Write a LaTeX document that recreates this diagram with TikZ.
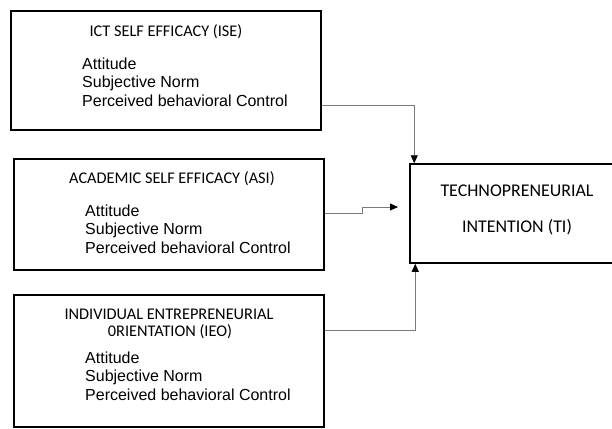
\documentclass[tikz,border=0pt]{standalone}
\usepackage{fontspec}
\setmainfont{Liberation Sans}
\newfontfamily\headfont{Carlito}
\usetikzlibrary{arrows.meta, calc}
\definecolor{Frame}{HTML}{000000}
\definecolor{Wire}{HTML}{7A7A7A}

\begin{document}
\begin{tikzpicture}[
  x=1pt, y=-1pt,
  frame/.style={
    draw=Frame,
    line width=1.5pt,
    inner sep=0pt
  },
  title/.style={
    font=\headfont\fontsize{16.3}{19}\selectfont,
    inner sep=0pt,
    anchor=base
  },
  items/.style={
    font=\fontsize{16}{18.5}\selectfont,
    align=left,
    inner sep=0pt,
    anchor=base west
  },
  link/.style={
    -{Triangle[length=8pt,width=7pt,color=black]},
    line width=0.9pt,
    draw=Wire
  }
]

\useasboundingbox (0,0) rectangle (612,428);
\clip (0,0) rectangle (612,428);

% source boxes
\node[frame, minimum width=310pt, minimum height=119pt] (ise) at (166,70.5) {};
\node[frame, minimum width=310pt, minimum height=111pt] (asi) at (169,214.5) {};
\node[frame, minimum width=310pt, minimum height=132pt] (ieo) at (169,361) {};

% base of the item lists is the last line
\node[title] (isetitle) at (166,37) {ICT SELF EFFICACY (ISE)};
\node[items] (iseitems) at (82,106)
  {Attitude\\Subjective Norm\\Perceived behavioral Control};

\node[title] (asititle) at (172,183) {ACADEMIC SELF EFFICACY (ASI)};
\node[items] (asiitems) at (85,253)
  {Attitude\\Subjective Norm\\Perceived behavioral Control};

\node[title] (ieotitle) at (169,319) {INDIVIDUAL ENTREPRENEURIAL};
\node[title] (ieotitleb) at (170,336) {0RIENTATION (IEO)};
\node[items] (ieoitems) at (85,400)
  {Attitude\\Subjective Norm\\Perceived behavioral Control};

% target box
\node[frame, minimum width=214pt, minimum height=99pt] (ti) at (517,213.5) {};
\node[title, font=\headfont\fontsize{17.9}{20}\selectfont] (tititle) at (517,196)
  {TECHNOPRENEURIAL};
\node[title, font=\headfont\fontsize{17.9}{20}\selectfont] (tititleb) at (517,232)
  {INTENTION (TI)};

\coordinate (tiin) at (398,207);

% connectors
\draw[link] ([yshift=25pt]ise.south east) -| ([xshift=5pt]ti.north west);
\draw[link] ([yshift=1.5pt]asi.east) -- ++(38,0) |- (tiin);
\draw[link] ([yshift=-36pt]ieo.north east) -| ([xshift=6pt]ti.south west);

\end{tikzpicture}
\end{document}
